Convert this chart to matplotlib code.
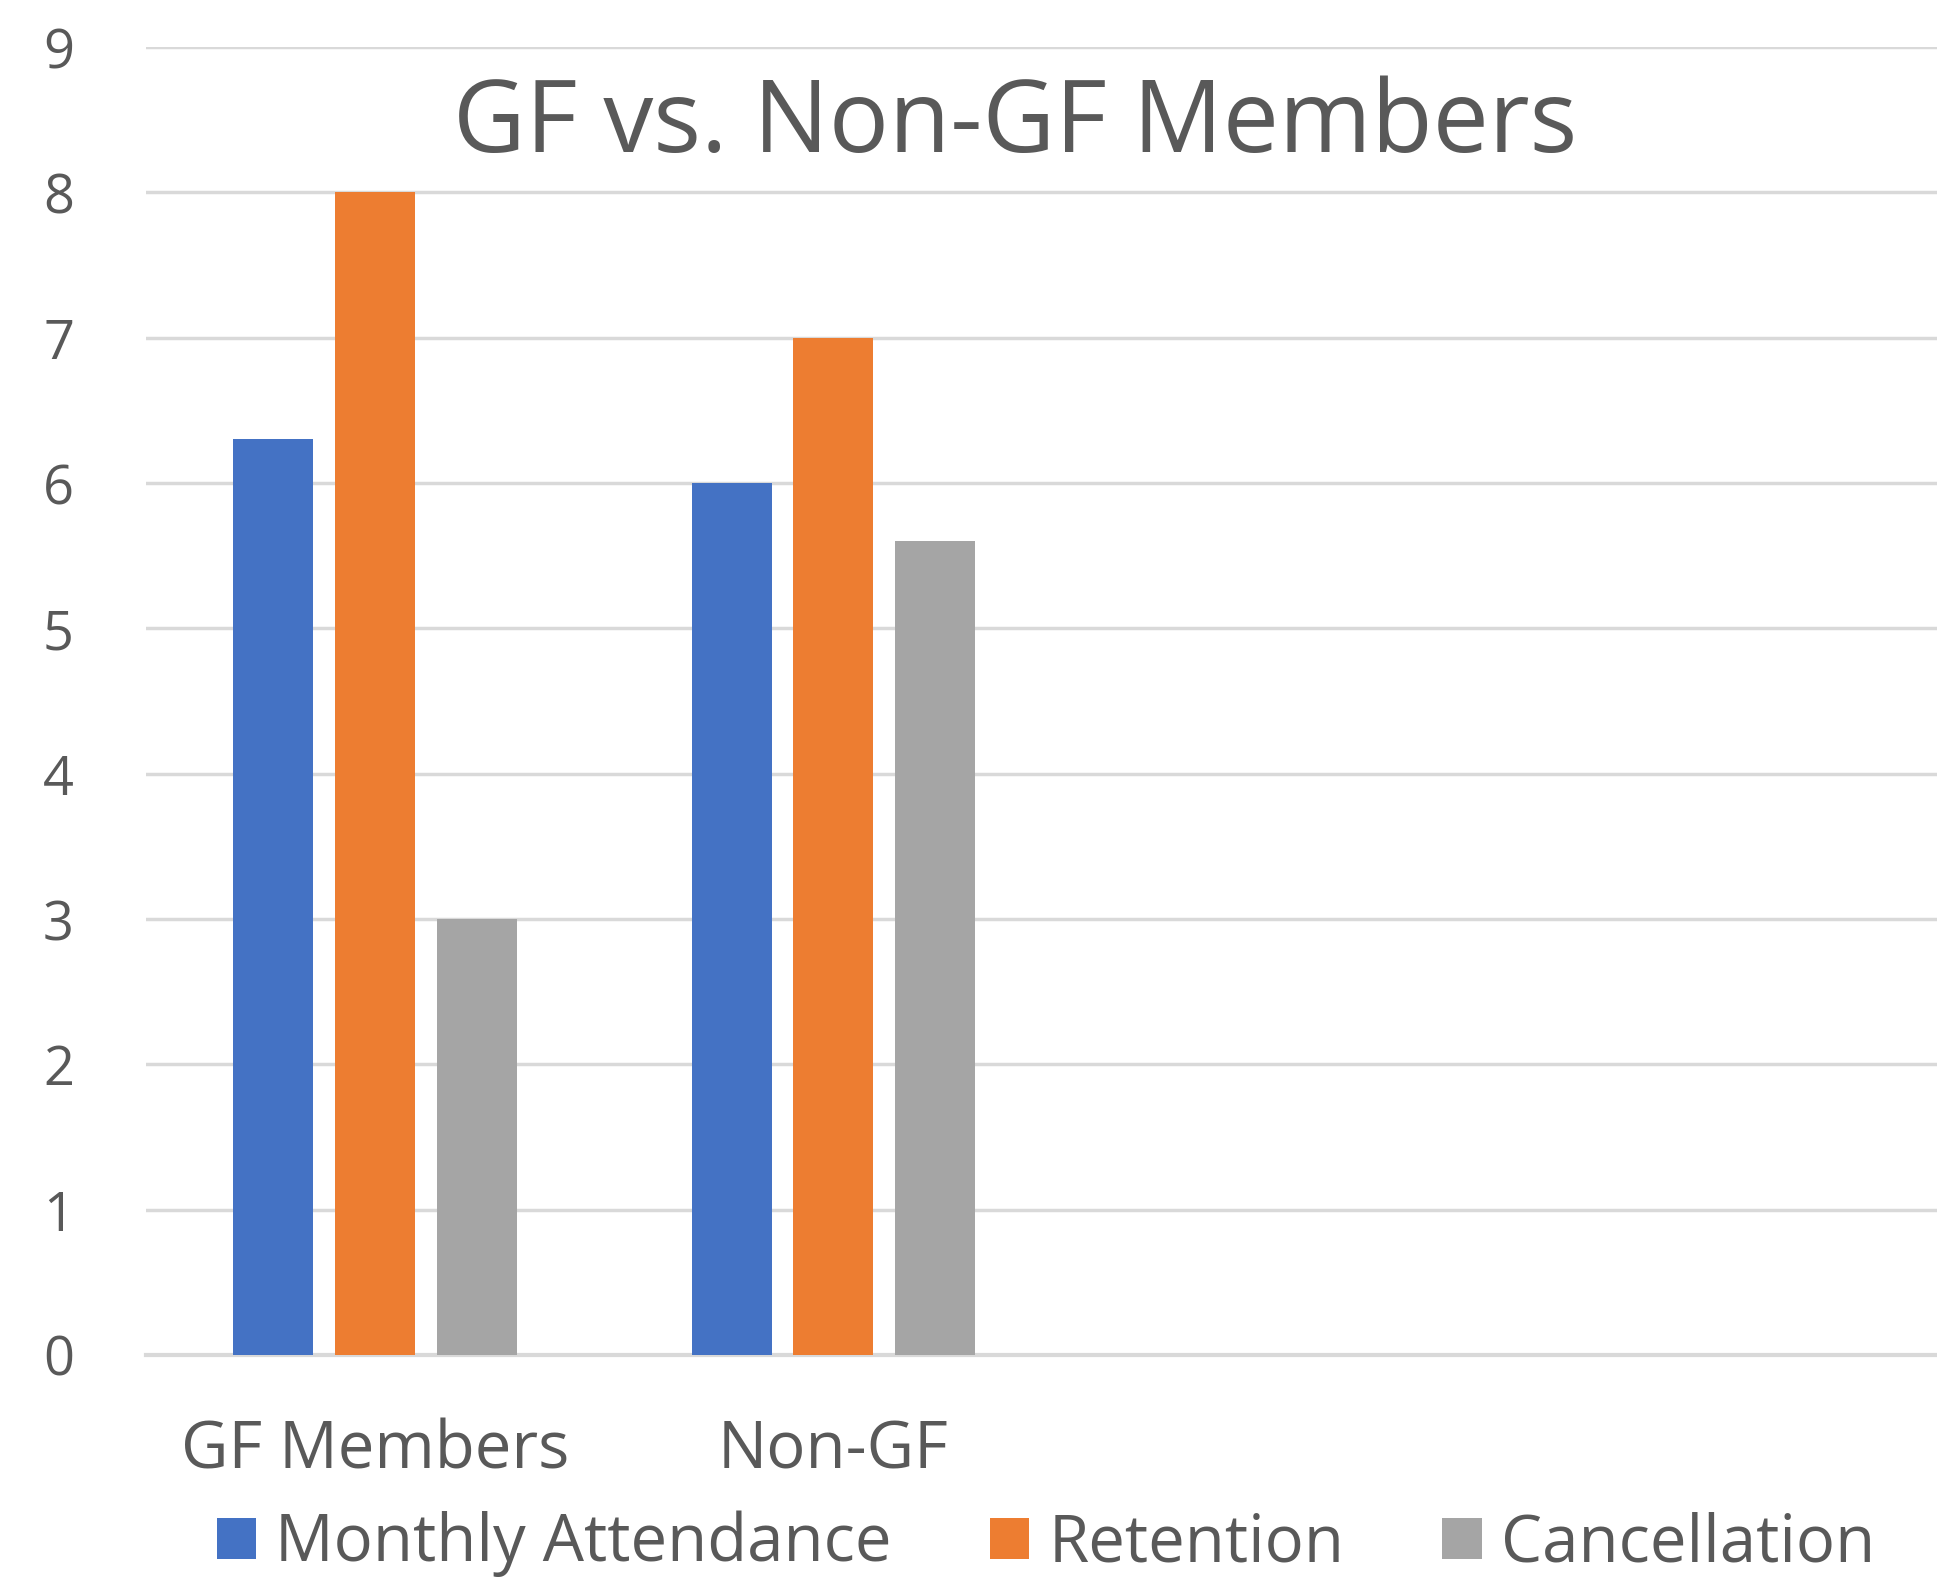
import matplotlib
matplotlib.use("Agg")
import matplotlib.pyplot as plt
from matplotlib.patches import Patch
import numpy as np

# chart data
categories = ["GF Members", "Non-GF", "", ""]
series_names = ["Monthly Attendance", "Retention", "Cancellation"]
attendance = [6.3, 6.0]
retention = [8.0, 7.0]
cancellation = [3.0, 5.6]
y_ticks = [0, 1, 2, 3, 4, 5, 6, 7, 8, 9]

colors = ["#4472C4", "#ED7D31", "#A5A5A5"]
text_color = "#595959"
grid_color = "#D9D9D9"

plt.rcParams["font.family"] = ["Open Sans", "DejaVu Sans"]

W, H = 1937, 1579
fig = plt.figure(figsize=(W / 100, H / 100), dpi=100)
ax = fig.add_axes([146 / W, 1 - 1355 / H, (1979 - 146) / W, (1355 - 47) / H])

x = np.arange(len(attendance))
offset = 0.222
width = 0.175
for i, vals in enumerate([attendance, retention, cancellation]):
    ax.bar(x + (i - 1) * offset, vals, width, color=colors[i], zorder=3)

ax.set_xlim(-0.5, len(categories) - 0.5)
ax.set_ylim(0, 9)
ax.set_yticks(y_ticks)
ax.set_xticks(np.arange(len(categories)))
ax.set_xticklabels(categories)
ax.yaxis.grid(True, color=grid_color, linewidth=2.5, zorder=0)
ax.set_axisbelow(True)
for s in ["top", "right", "left"]:
    ax.spines[s].set_visible(False)
ax.spines["bottom"].set_color(grid_color)
ax.spines["bottom"].set_linewidth(3)
ax.tick_params(axis="both", length=0, colors=text_color)
ax.tick_params(axis="y", labelsize=39, pad=63)
ax.tick_params(axis="x", labelsize=47, pad=46)
for lbl in ax.get_yticklabels():
    lbl.set_horizontalalignment("center")

fig.text(1015 / W, 1 - 126 / H, "GF vs. Non-GF Members", ha="center", va="center",
         fontsize=72, color=text_color)

handles = [Patch(facecolor=c, edgecolor="none") for c in colors]
fig.legend(handles, series_names, loc="center", bbox_to_anchor=(1046 / W, 1 - 1544 / H),
           ncol=3, frameon=False, fontsize=47, labelcolor=text_color,
           handlelength=0.6, handleheight=0.6, handletextpad=0.3, columnspacing=1.5)

fig.savefig("out.png", dpi=100)
